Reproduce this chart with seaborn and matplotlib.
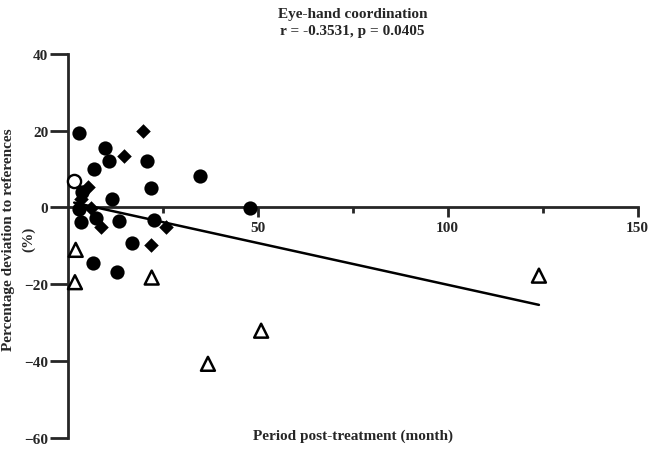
import numpy as np
import pandas as pd
import seaborn as sns
import matplotlib.pyplot as plt

# values (month, % deviation)
filled_circle_x = [3.0, 9.8, 10.9, 6.8, 20.8, 34.8, 21.8, 11.7, 48.0, 3.0, 3.8, 3.4, 7.4, 13.5, 22.8, 16.8, 6.7, 12.9]
filled_circle_y = [19.3, 15.4, 12.0, 10.0, 12.0, 8.3, 5.1, 2.2, -0.1, -0.4, 3.9, -3.8, -2.6, -3.4, -3.2, -9.3, -14.4, -16.8]
diamond_x = [19.7, 14.9, 5.3, 3.4, 6.1, 8.7, 21.8, 25.9]
diamond_y = [19.8, 13.5, 5.2, 2.2, -0.2, -5.1, -9.7, -5.0]
open_circle_x = [1.7]
open_circle_y = [7.0]
triangle_x = [2.1, 1.9, 22.1, 50.9, 36.9, 124.0]
triangle_y = [-11.0, -19.4, -18.2, -32.0, -40.6, -17.7]

groups = ["circle", "diamond", "open", "triangle"]

df = pd.concat([
    pd.DataFrame({'group': 'circle', 'month': filled_circle_x, 'dev': filled_circle_y}),
    pd.DataFrame({'group': 'diamond', 'month': diamond_x, 'dev': diamond_y}),
    pd.DataFrame({'group': 'open', 'month': open_circle_x, 'dev': open_circle_y}),
    pd.DataFrame({'group': 'triangle', 'month': triangle_x, 'dev': triangle_y}),
], axis=0, ignore_index=True)

sns.set_style("ticks")
plt.rcParams['font.family'] = ['Liberation Serif', 'DejaVu Serif']
plt.rcParams['font.weight'] = 'bold'
plt.rcParams['axes.labelweight'] = 'bold'
plt.rcParams['axes.titleweight'] = 'bold'

fig = plt.figure(figsize=(6.53, 4.60), dpi=100)
ax = fig.add_axes([0.1037, 0.0446, 0.8729, 0.8369])

# marker styles per group
styles = {
    'circle': dict(marker='o', s=105, color='black', edgecolor='black', linewidth=0),
    'diamond': dict(marker='D', s=55, color='black', edgecolor='black', linewidth=0),
    'open': dict(marker='o', s=90, facecolor='white', edgecolor='black', linewidth=1.7),
    'triangle': dict(marker='^', s=100, facecolor='none', edgecolor='black', linewidth=1.8),
}
for g in groups:
    sub = df[df['group'] == g]
    sns.scatterplot(data=sub, x='month', y='dev', ax=ax, legend=False, zorder=3, clip_on=False, **styles[g])

# linear fit over all points
sns.regplot(data=df, x='month', y='dev', ax=ax, scatter=False, ci=None, truncate=True,
            line_kws=dict(color='black', lw=1.8, zorder=4))

ax.set_xlim(0, 150)
ax.set_ylim(-60, 40)
ax.set_xticks([50, 100, 150])
ax.set_xticks([25, 75, 125], minor=True)
ax.set_yticks([-60, -40, -20, 0, 20, 40])

ax.spines['top'].set_visible(False)
ax.spines['right'].set_visible(False)
ax.spines['bottom'].set_position(('data', 0))
for sp in ['left', 'bottom']:
    ax.spines[sp].set_linewidth(2.0)
    ax.spines[sp].set_zorder(2)

ax.tick_params(axis='x', which='major', length=7, width=2.0, labelsize=11, pad=3)
ax.tick_params(axis='x', which='minor', length=4.5, width=2.0)
ax.tick_params(axis='y', which='major', length=13, width=2.0, labelsize=11, pad=1)

ax.set_xlabel("Period post-treatment (month)", fontsize=11)
ax.xaxis.set_label_coords(0.5, 0.025)

# y label in two pieces, as in the reference
ax.set_ylabel("Percentage deviation to references", fontsize=11)
ax.yaxis.set_label_coords(-0.093, 0.52)
ax.text(-0.068, 0.52, "(%)", transform=ax.transAxes, rotation=90,
        ha='center', va='center', fontsize=11, fontweight='bold')

ax.set_title("Eye-hand coordination\nr = -0.3531, p = 0.0405", fontsize=11, pad=14, linespacing=1.4)

fig.savefig("out.png", dpi=100)
